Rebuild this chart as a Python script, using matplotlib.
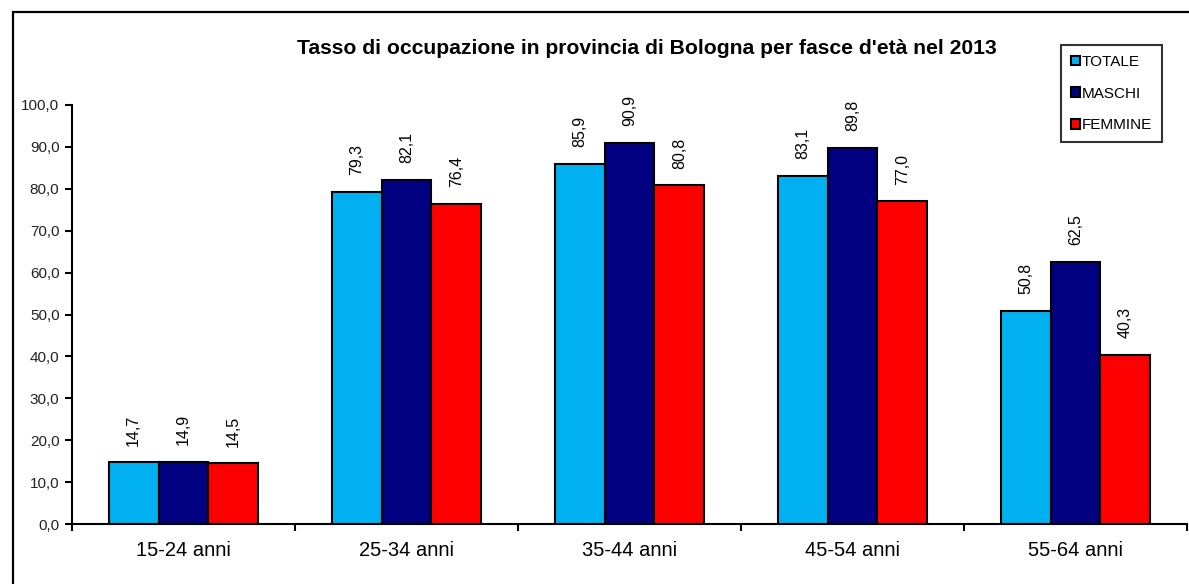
import numpy as np
import matplotlib
matplotlib.use("Agg")
import matplotlib.pyplot as plt
from matplotlib.patches import Rectangle

plt.rcParams['font.family'] = ['Liberation Sans', 'DejaVu Sans']

# Occupation rate by age group, Bologna 2013
categories = ['15-24 anni', '25-34 anni', '35-44 anni', '45-54 anni', '55-64 anni']
totale = [14.7, 79.3, 85.9, 83.1, 50.8]
maschi = [14.9, 82.1, 90.9, 89.8, 62.5]
femmine = [14.5, 76.4, 80.8, 77.0, 40.3]
series_names = ['TOTALE', 'MASCHI', 'FEMMINE']
colors = ['#00B0F0', '#000080', '#FF0000']
yticks = [0, 10, 20, 30, 40, 50, 60, 70, 80, 90, 100]


def fmt(v):
    return '{:.1f}'.format(v).replace('.', ',')


fig = plt.figure(figsize=(11.89, 5.84), dpi=100)

# outer chart frame (cropped on right and bottom)
fig.patches.append(Rectangle((13 / 1189, -0.05), 1.1, 1 - 12 / 584 + 0.05,
                             transform=fig.transFigure, fill=False,
                             edgecolor='black', linewidth=1.6, zorder=0))

ax = fig.add_axes([72 / 1189, 1 - 524 / 584, 1115 / 1189, 419 / 584])

x = np.arange(len(categories))
w = 0.224
data = [totale, maschi, femmine]
for i, (vals, name, col) in enumerate(zip(data, series_names, colors)):
    pos = x + (i - 1) * w
    ax.bar(pos, vals, width=w, color=col, edgecolor='black', linewidth=1.5,
           label=name, zorder=3)
    for px, v in zip(pos, vals):
        ax.annotate(fmt(v), (px, v), xytext=(0, 12), textcoords='offset points',
                    rotation=90, ha='center', va='bottom', fontsize=11.5)

ax.set_xlim(-0.5, len(categories) - 0.5)
ax.set_ylim(0, 100)
ax.set_yticks(yticks)
ax.set_yticklabels([fmt(v) for v in yticks], fontsize=11, color='#222222')
ax.set_xticks(x)
ax.set_xticklabels(categories, fontsize=14.5)
ax.set_xticks(np.arange(len(categories) + 1) - 0.5, minor=True)
ax.tick_params(axis='x', which='major', length=0, pad=12)
ax.tick_params(axis='x', which='minor', length=5, width=1.5, direction='out')
ax.tick_params(axis='y', length=5, width=1.5, direction='out', pad=4)

for s in ['top', 'right']:
    ax.spines[s].set_visible(False)
for s in ['left', 'bottom']:
    ax.spines[s].set_linewidth(1.5)

fig.text(647 / 1189, 1 - 48 / 584, "Tasso di occupazione in provincia di Bologna per fasce d'età nel 2013",
         ha='center', va='center', fontsize=15.2, fontweight='bold')

leg = ax.legend(loc='upper left', bbox_to_anchor=(1061 / 1189, 1 - 45 / 584),
                bbox_transform=fig.transFigure, fontsize=11, frameon=True,
                fancybox=False, edgecolor='black', handlelength=0.6,
                handleheight=0.6, handletextpad=0.1, labelspacing=1.15,
                borderpad=0.65, borderaxespad=0)
leg.get_frame().set_linewidth(1.5)

fig.savefig('out.png', dpi=100)
